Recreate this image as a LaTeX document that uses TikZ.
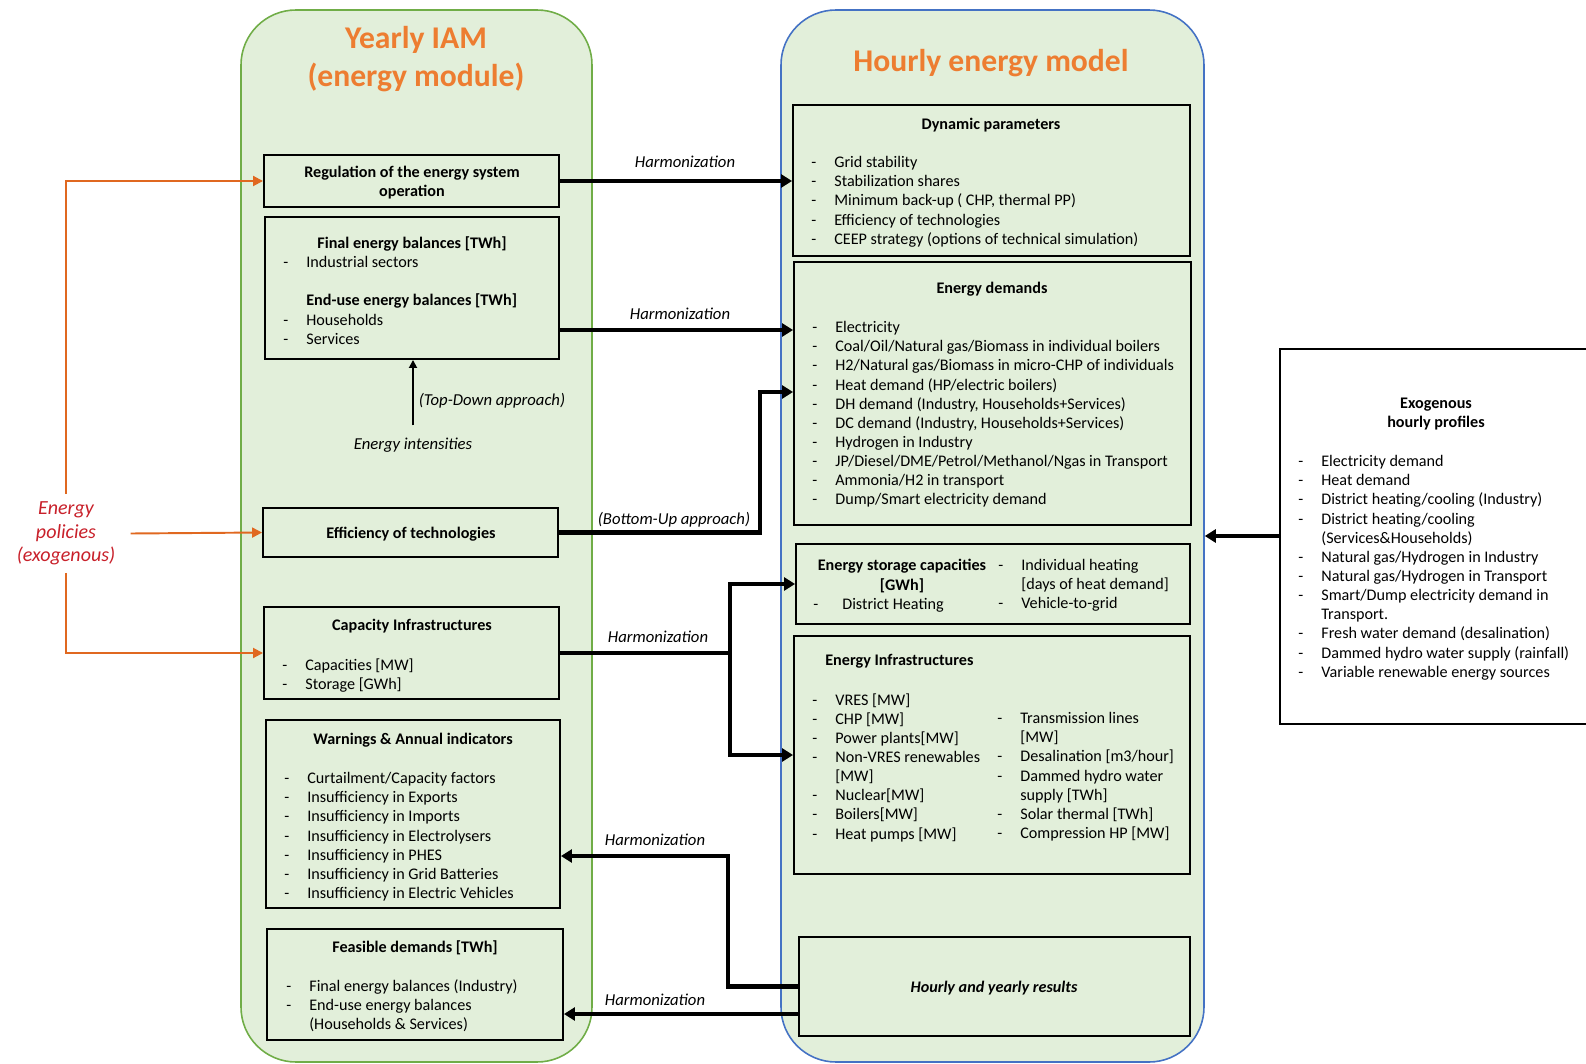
\documentclass[tikz,border=0pt]{standalone}
\usepackage{fontspec}
\setmainfont{Carlito}
\usepackage{tikz}
\usetikzlibrary{arrows.meta,fit,calc,positioning}
\definecolor{panelgreen}{RGB}{226,239,218}
\definecolor{iamgreen}{RGB}{112,173,71}
\definecolor{hourblue}{RGB}{68,114,196}
\definecolor{titleorange}{RGB}{237,125,49}
\definecolor{polorange}{RGB}{224,104,32}
\definecolor{polred}{RGB}{200,32,42}
\tikzstyle{panel}=[rounded corners=1.1cm,line width=0.9pt,fill=panelgreen,inner sep=0pt]
\tikzstyle{box}=[draw,line width=1.1pt,fill=panelgreen,inner sep=0pt]
\tikzstyle{txt}=[inner sep=0pt,align=left,font=\fontsize{9.2}{10.9}\selectfont]
\tikzstyle{head}=[inner sep=0pt,align=center,font=\fontsize{9.2}{10.9}\selectfont\bfseries]
\tikzstyle{lbl}=[inner sep=0pt,font=\fontsize{9.5}{11}\selectfont\itshape]
\tikzstyle{title}=[align=center,text=titleorange,font=\fontsize{18}{21.5}\selectfont\bfseries]
\tikzstyle{harm}=[line width=2.4pt,line join=miter,-{Triangle[length=0.22cm,width=0.26cm]}]
\tikzstyle{polarrow}=[draw=polorange,line width=1.1pt,-{Triangle[length=0.2cm,width=0.2cm]}]
\newcommand{\dsh}{\makebox[0.46cm][l]{-}}
\begin{document}
\begin{tikzpicture}[x=0.02cm,y=-0.02cm]
\useasboundingbox (0,0) rectangle (1586,1064);
\node[panel,draw=iamgreen,fit={(241,10) (592,1062)}] (iam) {};
\node[panel,draw=hourblue,fit={(781,10) (1204,1062)}] (hem) {};
\node[title] (iamt) at (416,59) {Yearly IAM\\(energy module)};
\node[title] (hemt) at (991,63.5) {Hourly energy model};

\node[box,fit={(264,155) (559,207)}] (reg) {};
\node[box,fit={(265,217) (559,359)}] (fin) {};
\node[box,fit={(263,508) (558,557)}] (eff) {};
\node[box,fit={(264,607) (559,699)}] (cap) {};
\node[box,fit={(266,720) (560,908)}] (war) {};
\node[box,fit={(267,929) (563,1040)}] (fea) {};
\node[box,fit={(793,105) (1190,256)}] (dyn) {};
\node[box,fit={(794,262) (1191,525)}] (dem) {};
\node[box,fit={(796,544) (1190,624)}] (sto) {};
\node[box,fit={(794,636) (1190,874)}] (inf) {};
\node[box,fit={(799,937) (1190,1036)}] (res) {};
\node[box,fill=white,fit={(1280,349) (1600,724)}] (exo) {};

\node[head] (regt) at (412,182.5) {Regulation of the energy system\\operation};
\node[head] (fint) at (412,244) {Final energy balances [TWh]};
\node[txt,anchor=north west] (finl) at (283,256) {\dsh Industrial sectors\\[10.9pt]
  \hspace*{0.46cm}\textbf{End-use energy balances [TWh]}\\
  \dsh Households\\
  \dsh Services};
\node[lbl] (int) at (413,445) {Energy intensities};
\node[lbl] (td) at (492,401) {(Top-Down approach)};
\node[head] (efft) at (411,534.5) {Efficiency of technologies};
\node[head] (capt) at (412,626) {Capacity Infrastructures};
\node[txt,anchor=north west] (capl) at (282,658) {\dsh Capacities [MW]\\
  \dsh Storage [GWh]};
\node[head] (wart) at (413,740) {Warnings \& Annual indicators};
\node[txt,anchor=north west] (warl) at (284,772) {\dsh Curtailment/Capacity factors\\
  \dsh Insufficiency in Exports\\
  \dsh Insufficiency in Imports\\
  \dsh Insufficiency in Electrolysers\\
  \dsh Insufficiency in PHES\\
  \dsh Insufficiency in Grid Batteries\\
  \dsh Insufficiency in Electric Vehicles};
\node[head] (feat) at (415,948) {Feasible demands [TWh]};
\node[txt,anchor=north west] (feal) at (286,979) {\dsh Final energy balances (Industry)\\
  \dsh End-use energy balances\\
  \hspace*{0.46cm}(Households \& Services)};

\node[head] (dynt) at (991,125) {Dynamic parameters};
\node[txt,anchor=north west] (dynl) at (811,156) {\dsh Grid stability\\
  \dsh Stabilization shares\\
  \dsh Minimum back-up ( CHP, thermal PP)\\
  \dsh Efficiency of technologies\\
  \dsh CEEP strategy (options of technical simulation)};
\node[head] (demt) at (992,289) {Energy demands};
\node[txt,anchor=north west] (deml) at (812,321) {\dsh Electricity\\
  \dsh Coal/Oil/Natural gas/Biomass in individual boilers\\
  \dsh H2/Natural gas/Biomass in micro-CHP of individuals\\
  \dsh Heat demand (HP/electric boilers)\\
  \dsh DH demand (Industry, Households+Services)\\
  \dsh DC demand (Industry, Households+Services)\\
  \dsh Hydrogen in Industry\\
  \dsh JP/Diesel/DME/Petrol/Methanol/Ngas in Transport\\
  \dsh Ammonia/H2 in transport\\
  \dsh Dump/Smart electricity demand};
\node[head] (stot) at (902,576) {Energy storage capacities\\{}[GWh]};
\node[txt,anchor=west] (stol) at (813,605) {\makebox[0.58cm][l]{-}District Heating};
\node[txt,anchor=north west] (stor) at (998,559) {\dsh Individual heating\\
  \hspace*{0.46cm}[days of heat demand]\\
  \dsh Vehicle-to-grid};
\node[head,anchor=west] (inft) at (825,661) {Energy Infrastructures};
\node[txt,anchor=north west] (infl) at (812,693) {\dsh VRES [MW]\\
  \dsh CHP [MW]\\
  \dsh Power plants[MW]\\
  \dsh Non-VRES renewables\\
  \hspace*{0.46cm}[MW]\\
  \dsh Nuclear[MW]\\
  \dsh Boilers[MW]\\
  \dsh Heat pumps [MW]};
\node[txt,anchor=north west] (infr) at (997,712) {\dsh Transmission lines\\
  \hspace*{0.46cm}[MW]\\
  \dsh Desalination [m3/hour]\\
  \dsh Dammed hydro water\\
  \hspace*{0.46cm}supply [TWh]\\
  \dsh Solar thermal [TWh]\\
  \dsh Compression HP [MW]};
\node[head,font=\fontsize{9.2}{10.9}\selectfont\bfseries\itshape] (rest) at (994,988.5) {Hourly and yearly results};

\node[head] (exot) at (1436,414) {Exogenous\\hourly profiles};
\node[txt,anchor=north west] (exol) at (1298,455) {\dsh Electricity demand\\
  \dsh Heat demand\\
  \dsh District heating/cooling (Industry)\\
  \dsh District heating/cooling\\
  \hspace*{0.46cm}(Services\&Households)\\
  \dsh Natural gas/Hydrogen in Industry\\
  \dsh Natural gas/Hydrogen in Transport\\
  \dsh Smart/Dump electricity demand in\\
  \hspace*{0.46cm}Transport.\\
  \dsh Fresh water demand (desalination)\\
  \dsh Dammed hydro water supply (rainfall)\\
  \dsh Variable renewable energy sources};

\node[align=center,inner xsep=0.3cm,inner ysep=0.15cm,text=polred,
  font=\fontsize{11.4}{13.3}\selectfont\itshape] (pol) at (66,533.5) {Energy\\policies\\(exogenous)};

\coordinate (r2) at (700,330);
\coordinate (bu) at (760,392);
\coordinate (cs) at (730,584);
\coordinate (ci) at (730,755);
\coordinate (wr) at (728,856);
\coordinate (fr) at (700,1014);
\coordinate (ex) at (1240,536);

\draw[harm] (reg.east) -- (reg.east -| dyn.west);
\draw[harm] (fin.east |- r2) -- (dem.west |- r2);
\draw[harm] (eff.east) -| (bu) -- (bu -| dem.west);
\draw[harm] (cap.east) -| (cs) -- (cs -| sto.west);
\draw[harm] (cap.east) -| (ci) -- (ci -| inf.west);
\draw[harm] (res.west) -| (wr) -- (wr -| war.east);
\draw[harm] (res.west |- fr) -- (fea.east |- fr);
\draw[harm] (exo.west |- ex) -- (hem.east |- ex);
\draw[line width=1pt,-{Triangle[length=0.16cm,width=0.16cm]}] (int.north) ++(0,-12) -- (fin.south -| int.north);

\draw[polarrow] (pol.north) |- (reg.west);
\draw[polarrow] (pol.east) -- (eff.west);
\draw[polarrow] (pol.south) |- (cap.west);

\node[lbl] (h1) at (685,161.5) {Harmonization};
\node[lbl] (h2) at (680,313.5) {Harmonization};
\node[lbl] (h3) at (674,519.5) {(Bottom-Up approach)};
\node[lbl] (h4) at (658,636.5) {Harmonization};
\node[lbl] (h5) at (655,839.5) {Harmonization};
\node[lbl] (h6) at (655,999.5) {Harmonization};
\end{tikzpicture}
\end{document}
